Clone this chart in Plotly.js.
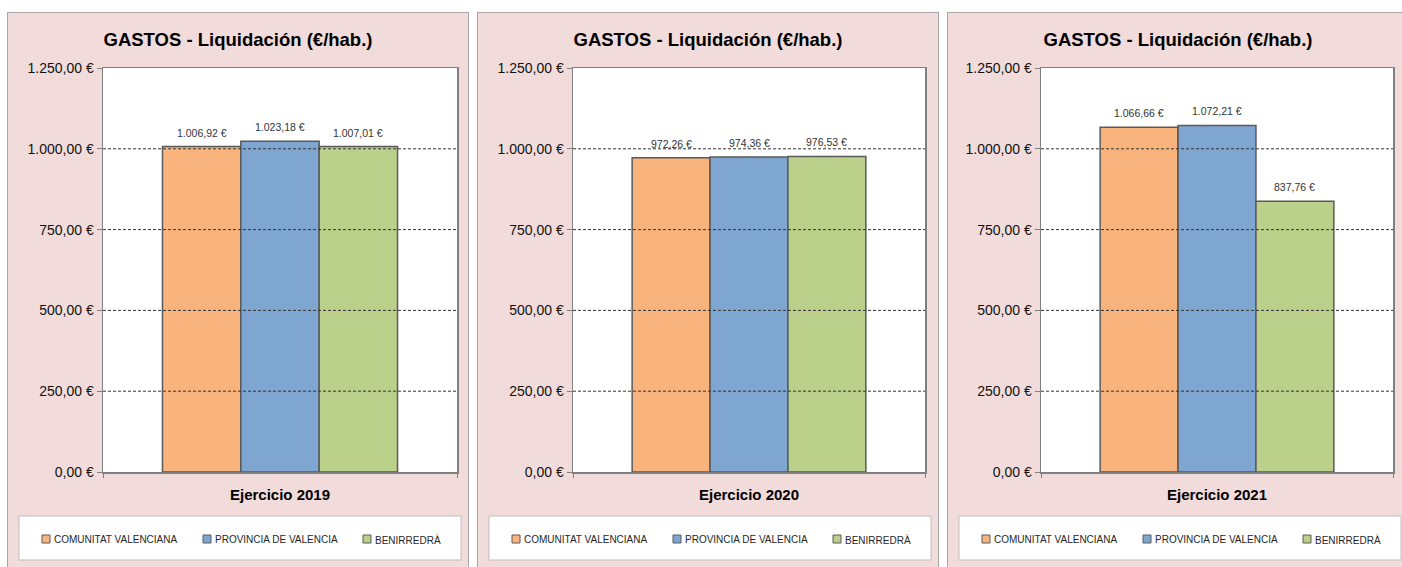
<!DOCTYPE html>
<html><head><meta charset="utf-8">
<script src="https://cdn.plot.ly/plotly-3.0.1.min.js"></script>
<style>
body{margin:0;background:#fff;width:1402px;height:567px;overflow:hidden;position:relative;}
.panel{position:absolute;top:12px;border:1px solid #A6A6A6;width:460px;height:560px;background:#F2DCDB;}
.plot{width:460px;height:560px;}
</style></head><body>
<div class="panel" style="left:7px"><div id="p0" class="plot"></div></div>
<div class="panel" style="left:477px"><div id="p1" class="plot"></div></div>
<div class="panel" style="left:947px"><div id="p2" class="plot"></div></div>
<script>
// ---- data ----
const years = ["Ejercicio 2019", "Ejercicio 2020", "Ejercicio 2021"];
const seriesNames = ["COMUNITAT VALENCIANA", "PROVINCIA DE VALENCIA", "BENIRREDRÀ"];
const comunitat = [1006.92, 972.26, 1066.66];
const provincia = [1023.18, 974.36, 1072.21];
const benirredra = [1007.01, 976.53, 837.76];
const yTicks = [0, 250, 500, 750, 1000, 1250];
const chartTitle = "GASTOS - Liquidación (€/hab.)";

const seriesValues = [comunitat, provincia, benirredra];
const seriesColors = ["#F9B47D", "#7FA6D1", "#BBD08B"];

function fmtEUR(v) {
  const parts = v.toFixed(2).split('.');
  const intPart = parts[0].replace(/\B(?=(\d{3})+(?!\d))/g, '.');
  return intPart + ',' + parts[1] + ' €';
}

const FONT = 'Liberation Sans, Arial, sans-serif';
const W = 460, H = 560, T = 55, PH = 404;
const BARGAP = 0.336;
const lefts = [95, 95, 93];
const plotWs = [354, 352, 352];
const legSquares = [[34, 42], [195, 203], [355, 363]];
const legTextX = [44, 205, 365];

years.forEach((yr, i) => {
  const L = lefts[i], PW = plotWs[i], R = W - L - PW, B = H - T - PH;
  const px = x => (x - L) / PW;
  const py = y => (T + PH - y) / PH;
  const nS = seriesNames.length;
  const barW = (1 - BARGAP) / nS;

  const traces = seriesNames.map((name, s) => ({
    type: 'bar', name: name,
    x: [yr], y: [seriesValues[s][i]],
    marker: {color: seriesColors[s], line: {color: '#5A5A5A', width: 1.5}},
    hoverinfo: 'skip'
  }));

  const shapes = [];
  yTicks.filter(v => v > 0 && v < yTicks[yTicks.length - 1]).forEach(v => {
    shapes.push({type: 'line', xref: 'paper', x0: 0, x1: 1, yref: 'y', y0: v, y1: v,
      line: {color: '#333333', width: 1, dash: '3px,2px'}, layer: 'above'});
  });
  // legend box
  shapes.push({type: 'rect', xref: 'paper', yref: 'paper', x0: px(11), x1: px(453), y0: py(547), y1: py(503),
    fillcolor: '#FFFFFF', line: {color: '#BFBFBF', width: 1}, layer: 'below'});
  const annotations = [];
  seriesNames.forEach((name, s) => {
    // data label above each bar
    annotations.push({xref: 'x', yref: 'y', x: (s - (nS - 1) / 2) * barW, y: seriesValues[s][i],
      xanchor: 'center', yanchor: 'bottom', yshift: 6, showarrow: false,
      text: fmtEUR(seriesValues[s][i]), font: {size: 10.5, color: '#333333', family: FONT}});
    // legend entries
    shapes.push({type: 'rect', xref: 'paper', yref: 'paper', x0: px(legSquares[s][0]), x1: px(legSquares[s][1]),
      y0: py(530), y1: py(522), fillcolor: seriesColors[s], line: {color: '#5A5A5A', width: 1}, layer: 'above'});
    annotations.push({xref: 'paper', yref: 'paper', x: px(legTextX[s]), y: py(526.5), xanchor: 'left', yanchor: 'middle',
      text: name, showarrow: false, font: {size: 10, color: '#262626', family: FONT}});
  });

  const layout = {
    width: W, height: H,
    margin: {l: L, r: R, t: T, b: B, pad: 0},
    paper_bgcolor: '#F2DCDB', plot_bgcolor: '#FFFFFF',
    font: {family: FONT, color: '#1A1A1A'},
    showlegend: false,
    barmode: 'group', bargap: BARGAP, bargroupgap: 0,
    title: {text: chartTitle, font: {size: 18.5, weight: 'bold', color: '#000000', family: FONT},
      xref: 'container', x: 0.5, xanchor: 'center', yref: 'container', y: 1 - 27 / H, yanchor: 'middle'},
    xaxis: {type: 'category', showticklabels: false, ticks: 'outside', tickson: 'boundaries', ticklen: 4,
      tickcolor: '#808080', showline: true, linecolor: '#808080', linewidth: 1.5, mirror: true,
      showgrid: false, fixedrange: true, automargin: false,
      title: {text: yr, font: {size: 15, weight: 'bold', color: '#000000', family: FONT}, standoff: 17}},
    yaxis: {range: [0, yTicks[yTicks.length - 1]], tickvals: yTicks, ticktext: yTicks.map(fmtEUR),
      ticks: 'outside', ticklen: 5, tickcolor: '#808080', showgrid: false, zeroline: false,
      showline: true, linecolor: '#808080', linewidth: 1.5, mirror: true,
      tickfont: {size: 14, color: '#111111', family: FONT}, fixedrange: true, automargin: false},
    shapes: shapes, annotations: annotations
  };
  Plotly.newPlot('p' + i, traces, layout, {staticPlot: true, displayModeBar: false});
});
</script>
</body></html>
